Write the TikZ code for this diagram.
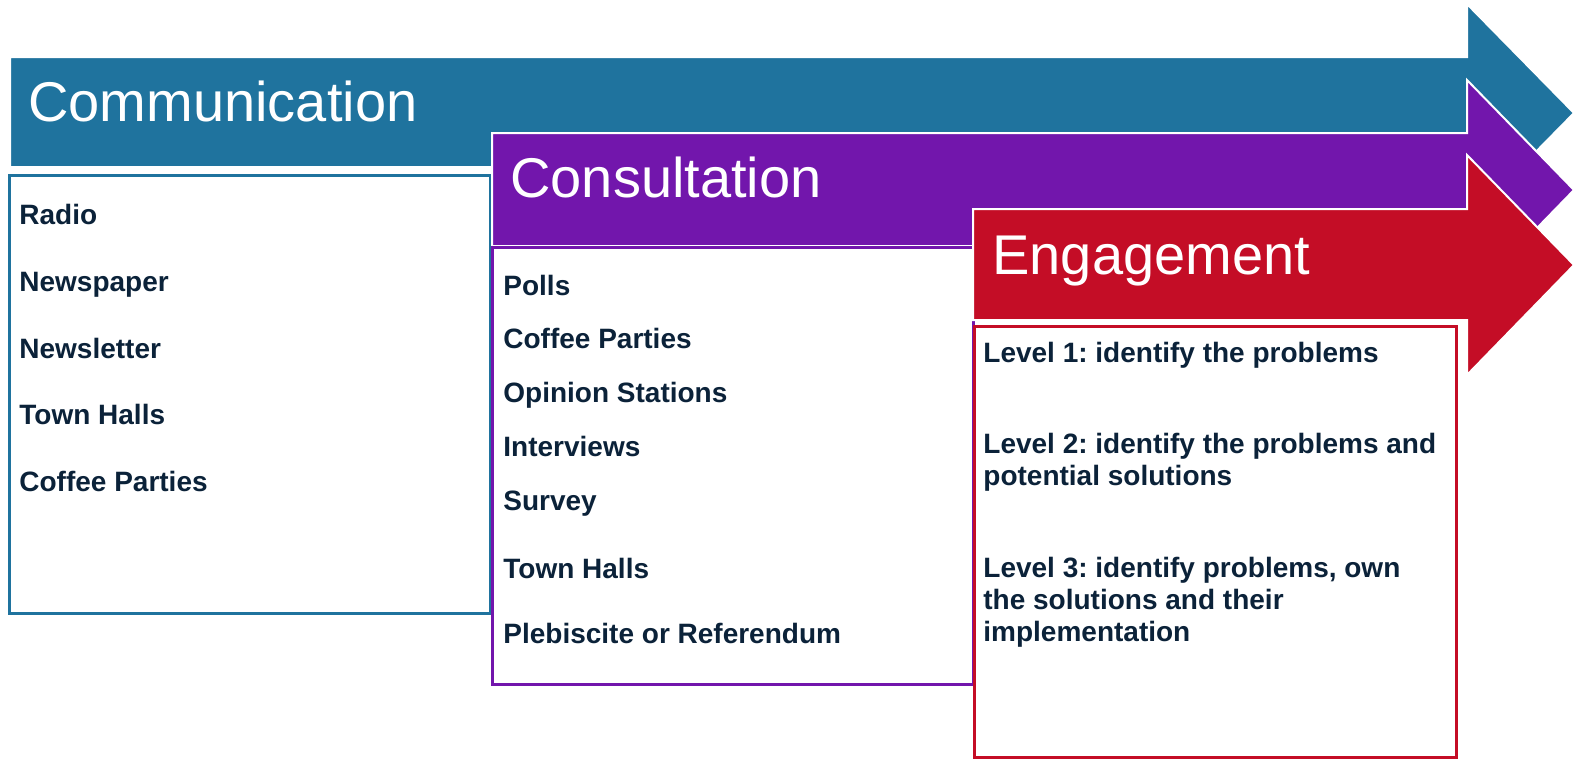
\documentclass[tikz,border=0pt]{standalone}
\usepackage{fontspec}
\setmainfont{Liberation Sans}
\usetikzlibrary{positioning}
\frenchspacing

\definecolor{commblue}{RGB}{31,115,158}
\definecolor{consviolet}{RGB}{114,22,172}
\definecolor{engred}{RGB}{196,13,38}
\definecolor{inknavy}{RGB}{11,34,57}

\tikzset{
  band/.style={draw=white, line width=1pt, miter limit=20},
  listbox/.style={line width=1.5pt},
  heading/.style={anchor=base west, inner sep=0pt, text=white, font=\fontsize{28}{30}\selectfont},
  item/.style={anchor=base west, inner sep=0pt, text=inknavy, align=left, font=\bfseries\fontsize{14}{16}\selectfont},
}

\begin{document}
\begin{tikzpicture}[x=0.5pt, y=-0.5pt]
  \useasboundingbox (0,0) rectangle (1574,762);

  % communication
  \fill[commblue, band] (10,57) -- (1467,57) -- (1467,4) -- (1574,113) -- (1467,222) -- (1467,167) -- (10,167) -- cycle;
  \draw[commblue, listbox] (9,175) rectangle (490,613);
  \node[heading] (comm) at (28,121) {Communication};
  \foreach \txt/\y [count=\i] in {Radio/224, Newspaper/291, Newsletter/358, Town Halls/424, Coffee Parties/491}
    \node[item] (comm\i) at (19,\y) {\txt};

  % consultation
  \fill[consviolet, band] (492,133) -- (1467,133) -- (1467,80) -- (1574,190) -- (1467,300) -- (1467,246) -- (492,246) -- cycle;
  \draw[consviolet, listbox] (492,247) rectangle (973,684);
  \node[heading] (cons) at (510,197) {Consultation};
  \foreach \txt/\y [count=\i] in {Polls/295, Coffee Parties/348, Opinion Stations/402, Interviews/456, Survey/510, Town Halls/578, Plebiscite or Referendum/643}
    \node[item] (cons\i) at (503,\y) {\txt};

  % engagement (multi-line nodes sit on their last baseline)
  \fill[engred, band] (973,209) -- (1467,209) -- (1467,155) -- (1574,265) -- (1467,375) -- (1467,320) -- (973,320) -- cycle;
  \draw[engred, listbox] (974,326) rectangle (1456,757);
  \node[heading] (eng) at (992,274) {Engagement};
  \node[item] (lvl1) at (983,362) {Level 1: identify the problems};
  \node[item] (lvl2) at (983,485) {Level 2: identify the problems and\\potential solutions};
  \node[item] (lvl3) at (983,641) {Level 3: identify problems, own\\the solutions and their\\implementation};
\end{tikzpicture}
\end{document}
